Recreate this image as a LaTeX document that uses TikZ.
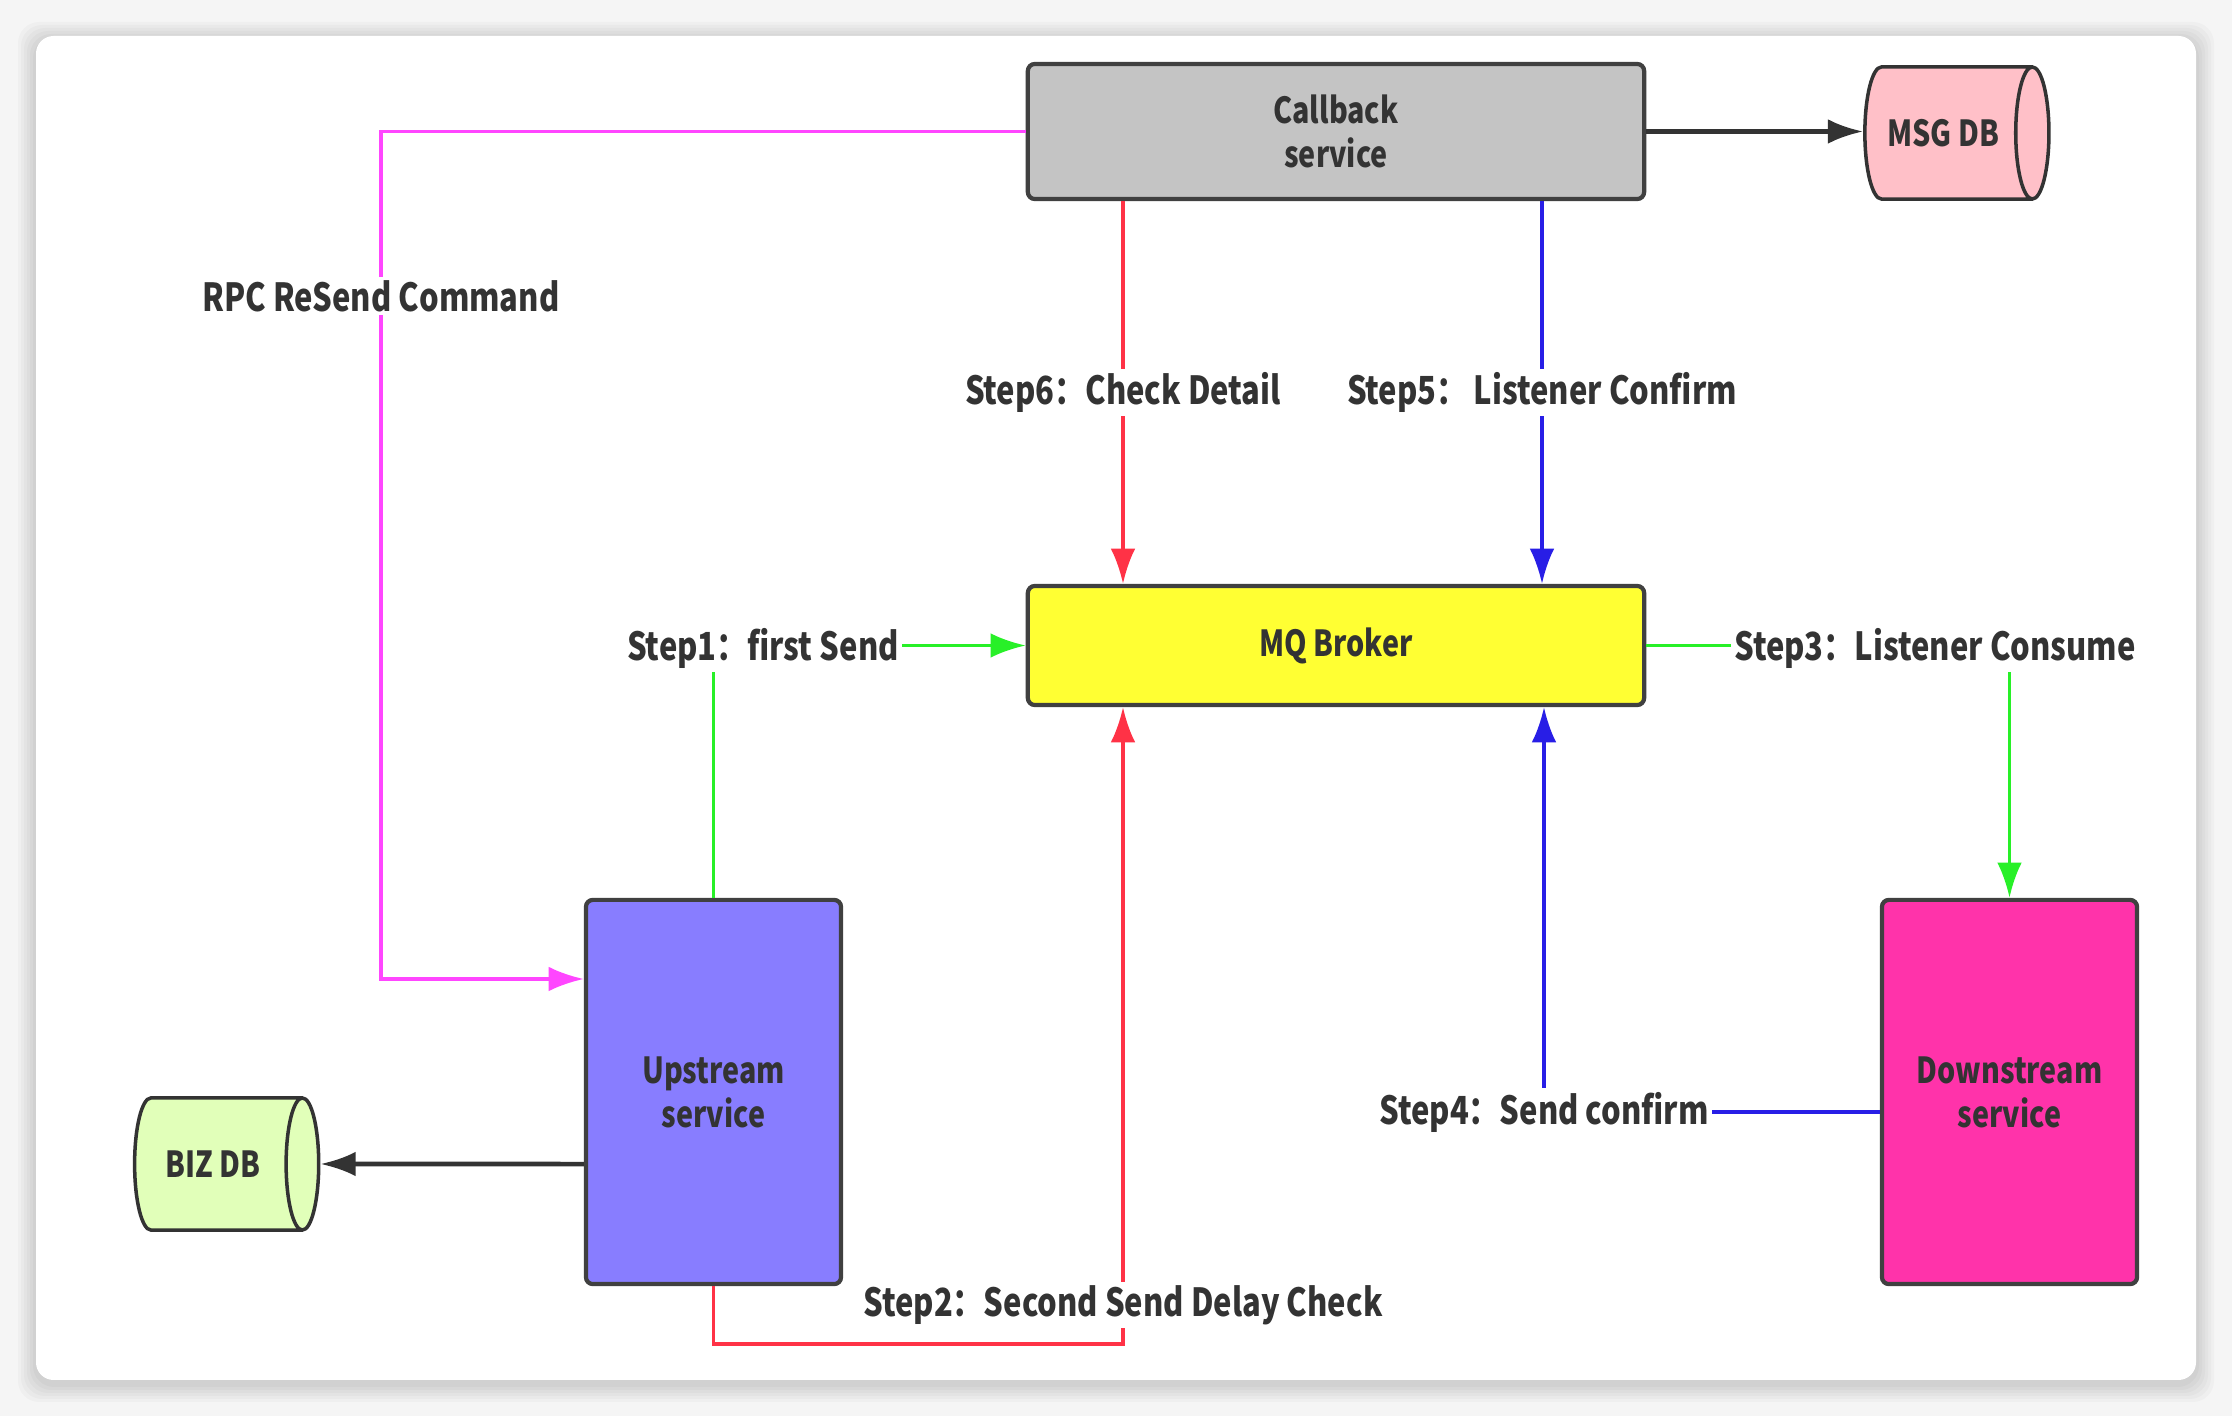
\documentclass[tikz,border=0pt]{standalone}
\usepackage{fontspec}
\setmainfont{Noto Sans CJK SC}[FakeStretch=0.8]
\usetikzlibrary{shapes.geometric,arrows.meta}
\definecolor{cbgray}{RGB}{196,196,196}
\definecolor{mqyellow}{RGB}{255,255,51}
\definecolor{upblue}{RGB}{136,125,255}
\definecolor{downpink}{RGB}{255,51,170}
\definecolor{msgpink}{RGB}{255,192,200}
\definecolor{bizgreen}{RGB}{225,255,185}
\definecolor{lnred}{RGB}{255,50,70}
\definecolor{lngreen}{RGB}{40,240,40}
\definecolor{lnblue}{RGB}{40,30,230}
\definecolor{lnmag}{RGB}{255,70,255}
\definecolor{txt}{RGB}{51,51,51}
\newcommand{\steplabel}[3]{\node[lbl] (#1) at (#2) {#3};}

\begin{document}
\begin{tikzpicture}[x=0.01cm,y=-0.01cm,>={Latex[length=10pt,width=7pt]},
  box/.style={draw=black!75,line width=1.2pt,rounded corners=2pt,text=txt,align=center,font=\fontsize{10.2}{12.5}\selectfont\bfseries},
  db/.style={cylinder,draw=black!80,line width=1pt,aspect=0.65,text=txt,font=\fontsize{10.2}{12.5}\selectfont\bfseries,minimum width=1.32cm,minimum height=1.84cm},
  lbl/.style={fill=white,text=txt,inner sep=1pt,font=\fontsize{11}{13}\selectfont\bfseries},
  ln/.style={line width=1pt},
  blk/.style={line width=1.3pt,black!80}]
\useasboundingbox (0,0) rectangle (2232,1416);
\fill[gray!8] (0,0) rectangle (2232,1416);
\foreach \i in {1,...,6} \fill[black,opacity=0.025,rounded corners=6pt] (36-3*\i,40-3*\i) rectangle (2196+3*\i,1384+3*\i);
\fill[white,rounded corners=5pt] (36,36) rectangle (2196,1380);

\node[box,fill=cbgray,minimum width=6.16cm,minimum height=1.35cm] (callback) at (1336,131.5) {Callback\\service};
\node[db,fill=msgpink] (msgdb) at (1943,133) {MSG DB};
\node[box,fill=mqyellow,minimum width=6.16cm,minimum height=1.19cm] (mq) at (1336,645.5) {MQ Broker};
\node[box,fill=upblue,minimum width=2.55cm,minimum height=3.84cm] (up) at (713.5,1092) {Upstream\\service};
\node[box,fill=downpink,minimum width=2.55cm,minimum height=3.84cm] (down) at (2009.5,1092) {Downstream\\service};
\node[db,fill=bizgreen] (bizdb) at (213,1164) {BIZ DB};

\draw[blk,->] (callback.east) -- (callback.east -| msgdb.west);
\draw[blk,->] ([yshift=-0.72cm]up.west) -- (bizdb.east);
\draw[ln,lnmag,->] (callback.west) -- (381,131.5) -- (381,979) -- (up.west |- 0,979);
\draw[ln,lnred,->] (1123,0 |- callback.south) -- (1123,0 |- mq.north) node[lbl,midway] (s6) {Step6：Check Detail};
\draw[ln,lnblue,->] (1542,0 |- callback.south) -- (1542,0 |- mq.north) node[lbl,midway] (s5) {Step5：\,Listener Confirm};
\draw[ln,lngreen,->] (up.north) |- (mq.west);
\draw[ln,lngreen,->] (mq.east) -| (down.north);
\draw[ln,lnblue,->] ([yshift=-0.2cm]down.west) -| (1544,0 |- mq.south);
\draw[ln,lnred,->] (up.south) -- (713.5,1344) -| (1123,0 |- mq.south);
\steplabel{rpc}{381,296}{RPC ReSend Command}
\steplabel{s1}{763,648}{Step1：first Send}
\steplabel{s3}{1935,648}{Step3：Listener Consume}
\steplabel{s4}{1544,1112}{Step4：Send confirm}
\steplabel{s2}{1123,1305}{Step2：Second Send Delay Check}
\end{tikzpicture}
\end{document}
